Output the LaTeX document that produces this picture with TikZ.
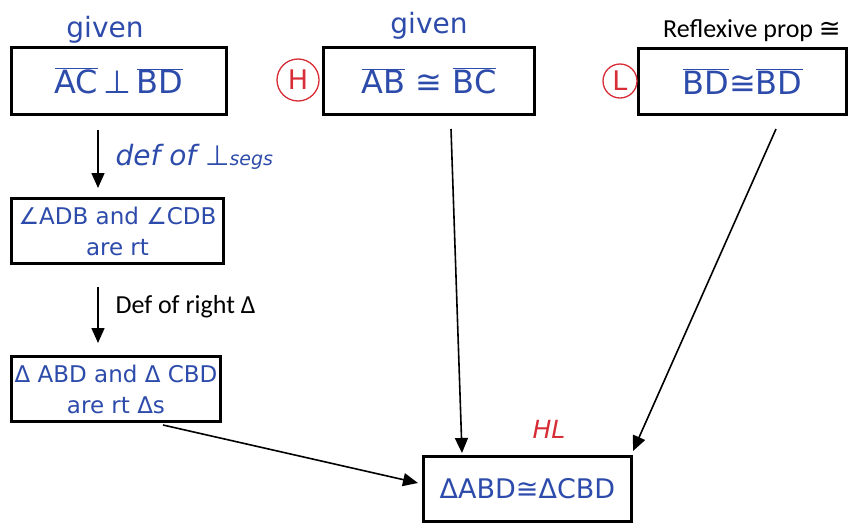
\documentclass[tikz,border=0pt]{standalone}
\usepackage{fontspec}
\usetikzlibrary{arrows.meta}

\newfontfamily\handfont{DejaVu Sans}
\newfontfamily\printfont{Carlito}
\definecolor{ink}{RGB}{45,75,170}
\definecolor{redink}{RGB}{215,45,55}
% segment with a bar over it
\newcommand{\seg}[1]{$\overline{\mbox{#1}}$}

\begin{document}
\begin{tikzpicture}[x=1pt,y=-1pt,
  box/.style={draw,line width=3pt,text=ink,align=center,inner sep=0pt},
  bigtxt/.style={font=\handfont\fontsize{32}{36}\selectfont},
  smalltxt/.style={font=\handfont\fontsize{23}{31}\selectfont},
  hand/.style={text=ink,font=\handfont\fontsize{28}{32}\selectfont},
  print/.style={font=\printfont\fontsize{26}{30}\selectfont},
  ringmark/.style={circle,draw=redink,line width=1.3pt,text=redink,inner sep=0pt,
    font=\handfont\fontsize{27}{30}\selectfont},
  arr/.style={-{Triangle[length=15pt,width=13pt]},line width=1.6pt}]
  \useasboundingbox (0,0) rectangle (851,525);

  % statements
  \node[box,bigtxt,minimum width=215pt,minimum height=67pt] (perp) at (119,81) {\seg{AC}\,⊥\,\seg{BD}};
  \node[box,bigtxt,minimum width=211pt,minimum height=67pt] (hyp) at (429,81) {\seg{AB} ≅ \seg{BC}};
  \node[box,bigtxt,minimum width=208pt,minimum height=66pt] (leg) at (742.5,81.5) {\seg{BD}≅\seg{BD}};
  \node[box,smalltxt,minimum width=212pt,minimum height=65pt] (rtang) at (117.5,231) {∠ADB and ∠CDB\\are rt};
  \node[box,smalltxt,minimum width=209pt,minimum height=65pt] (rttri) at (116,389) {Δ ABD and Δ CBD\\are rt Δs};
  \node[box,font=\handfont\fontsize{27}{31}\selectfont,minimum width=208pt,minimum height=65pt] (concl) at (527.5,489) {ΔABD≅ΔCBD};

  % reasons
  \node[hand,anchor=base] (given1) at (105,37) {given};
  \node[hand,anchor=base] (given2) at (429,33) {given};
  \node[print,anchor=base] (refl) at (752,37) {Reflexive prop {\handfont ≅}};
  \node[hand,anchor=base west] (defperp) at (112,165) {\itshape def of ⊥{\fontsize{19}{22}\selectfont segs}};
  \node[print,anchor=base west] (defrt) at (112,313) {Def of right Δ};
  \node[text=redink,font=\handfont\itshape\fontsize{25}{29}\selectfont] (hl) at (549,429) {HL};
  \node[ringmark,minimum size=42pt] (hmark) at (298,80) {H};
  \node[ringmark,minimum size=34pt] (lmark) at (620,81) {L};

  % connectors
  \draw[arr] ([xshift=-21pt,yshift=-14pt]perp.south) -- ([xshift=-19.5pt,yshift=9pt]rtang.north);
  \draw[arr] ([xshift=-19.5pt,yshift=-22pt]rtang.south) -- ([xshift=-18pt,yshift=12pt]rttri.north);
  \draw[arr] ([xshift=47pt,yshift=-2pt]rttri.south) -- ([xshift=-4pt,yshift=6pt]concl.west);
  \draw[arr] ([xshift=22pt,yshift=-13pt]hyp.south) -- ([xshift=40pt,yshift=2pt]concl.north west);
  \draw[arr] ([xshift=33.5pt,yshift=-13pt]leg.south) -- ([yshift=4pt]concl.north east);
\end{tikzpicture}
\end{document}
